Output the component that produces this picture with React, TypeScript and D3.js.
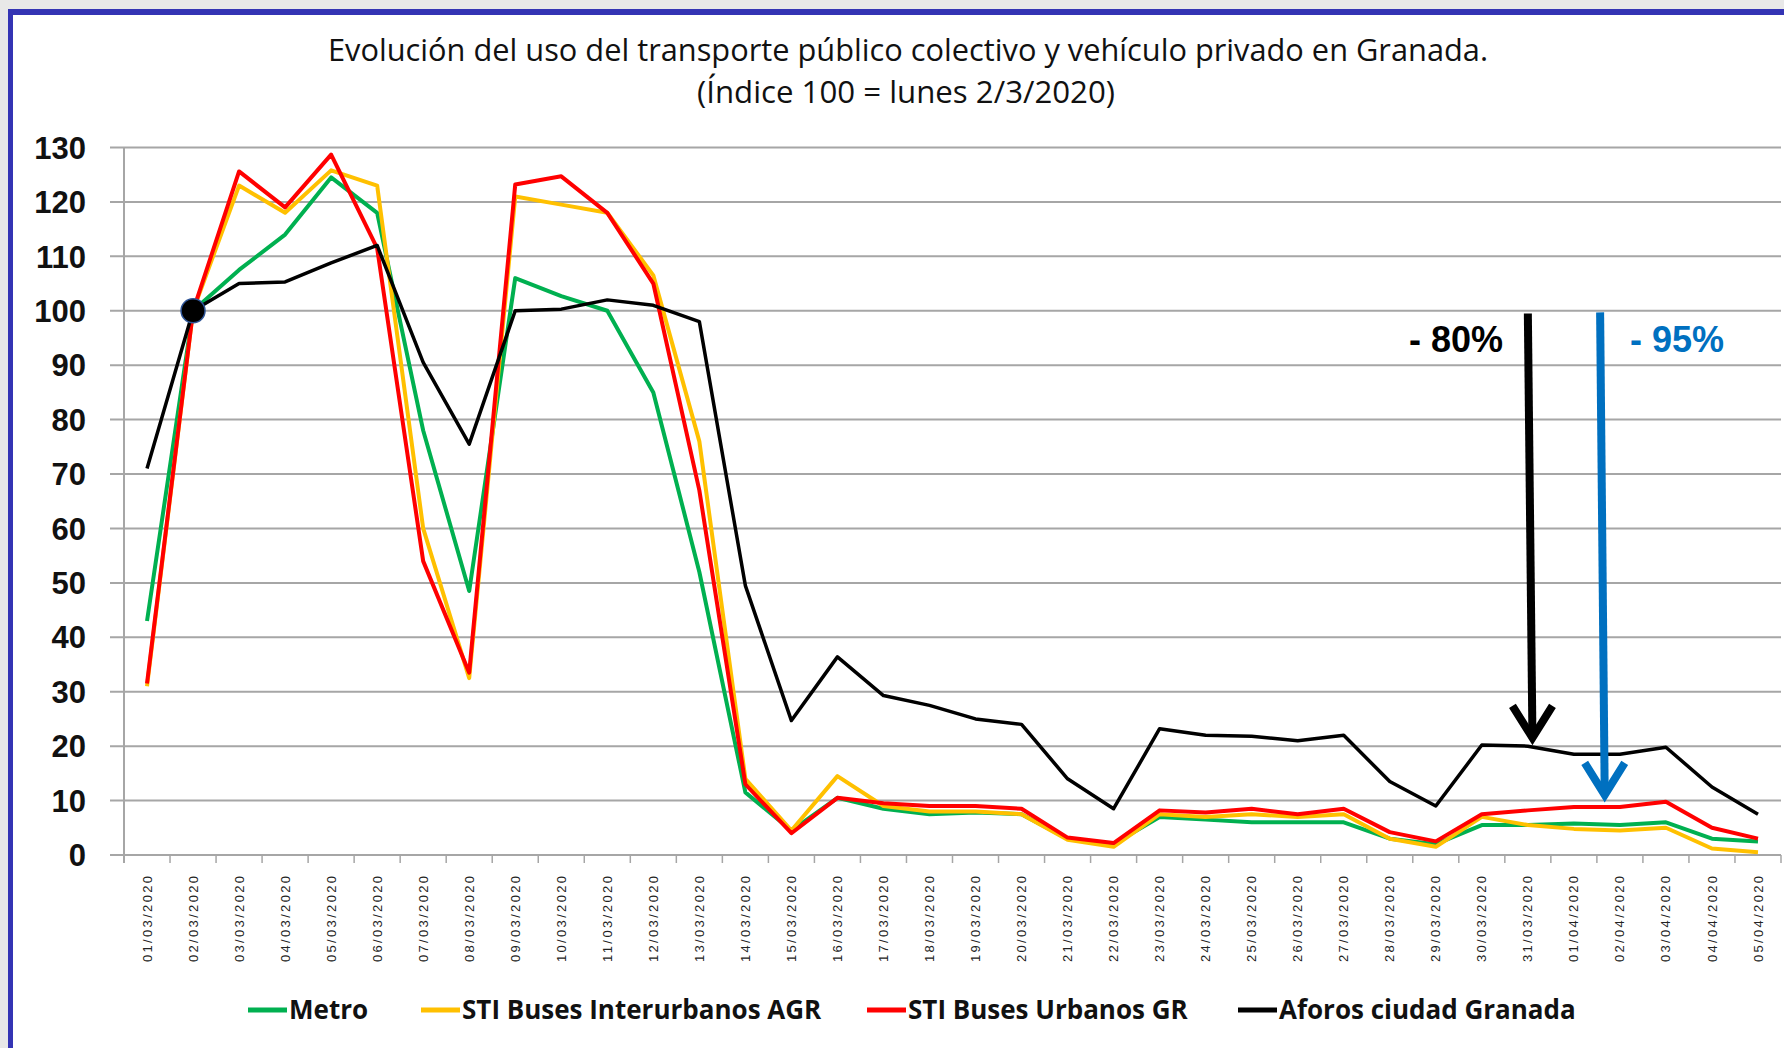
import React from 'react'
import * as d3 from 'd3'

// daily categories 01/03/2020 .. 05/04/2020
const dates = [
  '01/03/2020', '02/03/2020', '03/03/2020', '04/03/2020', '05/03/2020', '06/03/2020',
  '07/03/2020', '08/03/2020', '09/03/2020', '10/03/2020', '11/03/2020', '12/03/2020',
  '13/03/2020', '14/03/2020', '15/03/2020', '16/03/2020', '17/03/2020', '18/03/2020',
  '19/03/2020', '20/03/2020', '21/03/2020', '22/03/2020', '23/03/2020', '24/03/2020',
  '25/03/2020', '26/03/2020', '27/03/2020', '28/03/2020', '29/03/2020', '30/03/2020',
  '31/03/2020', '01/04/2020', '02/04/2020', '03/04/2020', '04/04/2020', '05/04/2020'
]

const metro = [
  43, 100, 107.5, 114, 124.5, 118, 78, 48.5, 106, 102.7, 100, 85, 52,
  11.5, 4.5, 10.5, 8.5, 7.5, 7.8, 7.5, 3, 2, 7, 6.5, 6, 6, 6, 3, 2,
  5.5, 5.5, 5.8, 5.5, 6, 3, 2.5
]
const interurbanos = [
  31, 100, 123, 118, 125.8, 123, 60, 32.5, 121, 119.5, 118, 106.5, 76,
  14, 4.5, 14.5, 9, 8, 8, 7.5, 2.8, 1.5, 7.5, 7, 7.5, 7, 7.5, 3, 1.5,
  7, 5.5, 4.8, 4.5, 5, 1.2, 0.5
]
const urbanos = [
  31.5, 100, 125.6, 119, 128.7, 111.5, 54, 33.5, 123.2, 124.7, 118, 105, 67,
  13, 4, 10.5, 9.5, 9, 9, 8.5, 3.2, 2.2, 8.2, 7.8, 8.5, 7.5, 8.5, 4.2, 2.5,
  7.5, 8.2, 8.8, 8.8, 9.8, 5, 3
]
const aforos = [
  71, 100, 105, 105.3, 108.8, 112, 90.5, 75.5, 100, 100.3, 102, 101, 98,
  49.5, 24.7, 36.4, 29.3, 27.5, 25, 24, 14, 8.5, 23.2, 22, 21.8, 21, 22, 13.5, 9,
  20.2, 20, 18.5, 18.5, 19.8, 12.5, 7.5
]

const yTicks = [0, 10, 20, 30, 40, 50, 60, 70, 80, 90, 100, 110, 120, 130]

const seriesNames = ['Metro', 'STI Buses Interurbanos AGR', 'STI Buses Urbanos GR', 'Aforos ciudad Granada']
const seriesColors = ['#00b050', '#ffc000', '#ff0000', '#000000']
const seriesData = [metro, interurbanos, urbanos, aforos]

// annotations: [index top, value top, index tip, value tip]
const arrow80 = [30.0, 99.5, 30.1, 20.8]
const arrow95 = [31.57, 99.7, 31.67, 10.3]

const title1 = 'Evolución del uso del transporte público colectivo y vehículo privado en Granada.'
const title2 = '(Índice 100 = lunes 2/3/2020)'

const sans = '"Open Sans", "Noto Sans", sans-serif'
const arial = '"Liberation Sans", Arial, sans-serif'

export default function App() {
  const width = 1784
  const height = 1048
  const plotLeft = 124, plotRight = 1781, plotTop = 147.5, plotBottom = 855

  const x = d3.scaleBand().domain(dates).range([plotLeft, plotRight]).padding(0)
  const bw = x.bandwidth()
  const cx = (i) => plotLeft + bw / 2 + i * bw
  const y = d3.scaleLinear().domain([0, 130]).range([plotBottom, plotTop])

  const line = d3.line<number>().x((d, i) => cx(i)).y(d => y(d))

  const arrow = (a, color) => {
    const x1 = cx(a[0]), y1 = y(a[1]), x2 = cx(a[2]), y2 = y(a[3])
    return (
      <g stroke={color} strokeWidth={8} fill="none">
        <line x1={x1} y1={y1} x2={x2} y2={y2 - 4} />
        <polyline points={`${x2 - 20},${y2 - 36} ${x2},${y2 - 4} ${x2 + 20},${y2 - 36}`} strokeLinejoin="miter" />
      </g>
    )
  }

  const legendX = [248, 421, 867, 1238]

  return (
    <svg width={width} height={height} style={{position: 'absolute', left: 0, top: 0}}>
      <rect x={0} y={0} width={width} height={height} fill="#e8e8e8" />
      <rect x={8} y={9} width={width} height={height} fill="#3434b4" />
      <rect x={13} y={15} width={width} height={height} fill="#ffffff" />

      <text x={328} y={61} fontFamily={sans} fontSize={31} fill="#111"
        textLength={1160} lengthAdjust="spacingAndGlyphs">{title1}</text>
      <text x={697} y={103} fontFamily={sans} fontSize={31} fill="#111"
        textLength={418} lengthAdjust="spacingAndGlyphs">{title2}</text>

      {/* grid + y axis */}
      {yTicks.map(t => (
        <g key={t}>
          <line x1={110} x2={plotRight} y1={y(t)} y2={y(t)} stroke="#a6a6a6" strokeWidth={2} />
          <text x={86} y={y(t)} dy="0.36em" textAnchor="end" fontFamily={arial} fontWeight="bold" fontSize={31} fill="#111">{t}</text>
        </g>
      ))}
      <line x1={plotLeft} x2={plotLeft} y1={plotTop} y2={plotBottom + 8} stroke="#a6a6a6" strokeWidth={2} />

      {/* x ticks & labels */}
      {dates.map((d, i) => (
        <g key={d}>
          <line x1={x(d) + bw} x2={x(d) + bw} y1={plotBottom} y2={plotBottom + 8} stroke="#a6a6a6" strokeWidth={1.5} />
          <text transform={`translate(${cx(i)},${876}) rotate(-90)`} dy="0.35em" textAnchor="end"
            fontFamily={arial} fontSize={13} textLength={86} lengthAdjust="spacing" fill="#222">{d}</text>
        </g>
      ))}

      {/* series */}
      {seriesData.map((s, k) => (
        <path key={k} d={line(s)} fill="none" stroke={seriesColors[k]} strokeWidth={k === 3 ? 3.5 : 4} strokeLinejoin="round" />
      ))}
      <circle cx={cx(1)} cy={y(aforos[1])} r={12} fill="#000" stroke="#2f5597" strokeWidth={1.5} />

      {/* annotations */}
      {arrow(arrow80, '#000')}
      {arrow(arrow95, '#0070c0')}
      <text x={1503} y={y(92.4)} textAnchor="end" fontFamily={arial} fontWeight="bold" fontSize={36} fill="#000">- 80%</text>
      <text x={1630} y={y(92.4)} fontFamily={arial} fontWeight="bold" fontSize={36} fill="#0070c0">- 95%</text>

      {/* legend */}
      {seriesNames.map((n, k) => (
        <g key={n} transform={`translate(${legendX[k]},1010)`}>
          <line x1={0} x2={39} y1={0} y2={0} stroke={seriesColors[k]} strokeWidth={5} />
          <text x={41} y={0} dy="0.36em" fontFamily={sans} fontWeight="bold" fontSize={26} fill="#111">{n}</text>
        </g>
      ))}
    </svg>
  )
}
